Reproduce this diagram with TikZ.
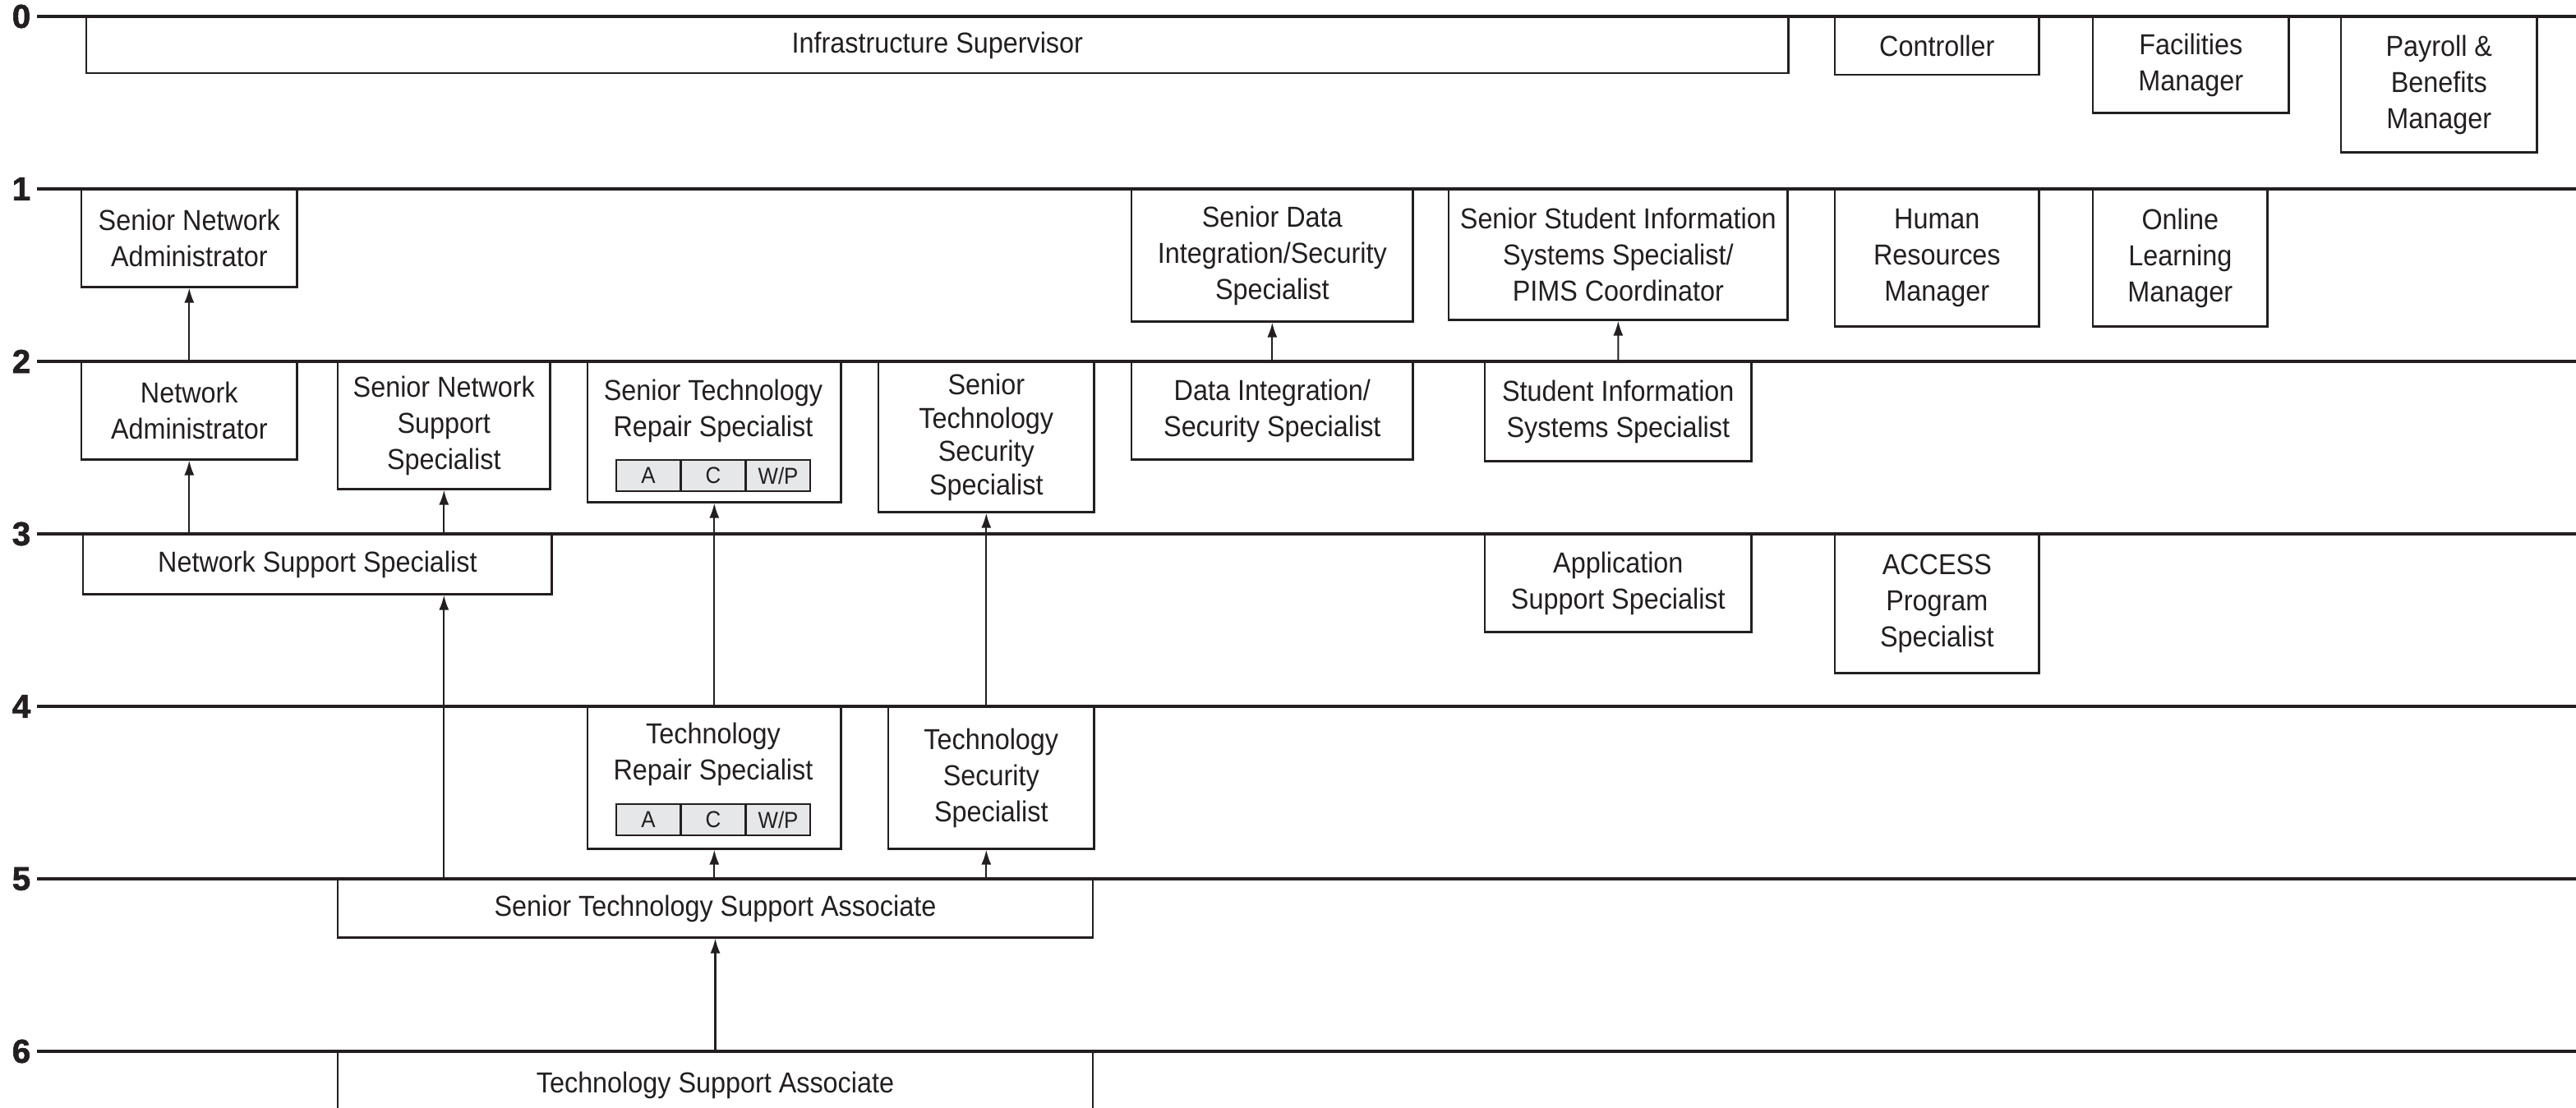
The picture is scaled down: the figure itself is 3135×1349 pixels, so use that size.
\documentclass[tikz,border=0pt]{standalone}
\usepackage{fontspec}
\setmainfont{Liberation Sans}[FakeStretch=0.92]
\newfontfamily\levelfont{Liberation Sans}[FakeBold=1.5]
\usetikzlibrary{arrows.meta}
\definecolor{ink}{RGB}{35,31,32}
\definecolor{cellgray}{RGB}{230,231,232}

\begin{document}
\begin{tikzpicture}[x=0.01cm,y=-0.01cm,>={Latex[length=1.8mm,width=1.2mm]},
    box/.style={draw=ink,line width=0.7pt,fill=white,anchor=north west,align=center,
        inner sep=1pt,text=ink,font=\fontsize{10}{12.5}\selectfont},
    cellbox/.style={draw=ink,line width=0.6pt,fill=cellgray,minimum width=0.787cm,
        minimum height=0.38cm,inner sep=0pt,text=ink,font=\fontsize{8}{9}\selectfont},
    level/.style={draw=ink,line width=1pt},
    lvlnum/.style={text=ink,font=\levelfont\fontsize{11.5}{11.5}\selectfont\bfseries},
    up/.style={->,draw=ink,line width=0.6pt}]
        \useasboundingbox (0,0) rectangle (3135,1349);
        % levels 0 to 6
        \foreach \n in {0,...,6}{
            \node[lvlnum] (lvl\n) at (26,20+210*\n) {\n};
            \draw[level] (45,20+210*\n) -- (3135,20+210*\n);
        }
        % level 0
        \node[box,minimum width=20.70cm,minimum height=0.68cm] (sup) at (104,20) {Infrastructure Supervisor};
        \node[box,minimum width=2.48cm,minimum height=0.70cm] (ctrl) at (2232,20) {Controller};
        \node[box,minimum width=2.38cm,minimum height=1.16cm] (fac) at (2546,20) {Facilities\\Manager};
        \node[box,minimum width=2.38cm,minimum height=1.64cm] (pay) at (2848,20) {Payroll \&\\Benefits\\Manager};
        % level 1
        \node[box,minimum width=2.62cm,minimum height=1.18cm] (sna) at (98,230) {Senior Network\\Administrator};
        \node[box,minimum width=3.42cm,minimum height=1.60cm] (sdis) at (1376,230) {Senior Data\\Integration/Security\\Specialist};
        \node[box,minimum width=4.12cm,minimum height=1.58cm] (ssis) at (1762,230) {Senior Student Information\\Systems Specialist/\\PIMS Coordinator};
        \node[box,minimum width=2.48cm,minimum height=1.66cm] (hrm) at (2232,230) {Human\\Resources\\Manager};
        \node[box,minimum width=2.12cm,minimum height=1.66cm] (olm) at (2546,230) {Online\\Learning\\Manager};
        % level 2
        \node[box,minimum width=2.62cm,minimum height=1.18cm] (na) at (98,440) {Network\\Administrator};
        \node[box,minimum width=2.58cm,minimum height=1.54cm] (snss) at (410,440) {Senior Network\\Support\\Specialist};
        \node[box,minimum width=3.08cm,minimum height=1.70cm] (strs) at (714,440) {};
        \node[align=center,text=ink,inner sep=0pt,font=\fontsize{10}{12.5}\selectfont] (strsT) at (868,500) {Senior Technology\\Repair Specialist};
        \node[cellbox] (strsA) at (789,579) {A};
        \node[cellbox] (strsC) at (868,579) {C};
        \node[cellbox] (strsW) at (947,579) {W/P};
        \node[box,minimum width=2.62cm,minimum height=1.82cm,font=\fontsize{10}{11.5}\selectfont] (stss) at (1068,440) {Senior\\Technology\\Security\\Specialist};
        \node[box,minimum width=3.42cm,minimum height=1.18cm] (dis) at (1376,440) {Data Integration/\\Security Specialist};
        \node[box,minimum width=3.24cm,minimum height=1.20cm] (sis) at (1806,440) {Student Information\\Systems Specialist};
        % level 3
        \node[box,minimum width=5.70cm,minimum height=0.72cm] (nss) at (100,650) {Network Support Specialist};
        \node[box,minimum width=3.24cm,minimum height=1.18cm] (aps) at (1806,650) {Application\\Support Specialist};
        \node[box,minimum width=2.48cm,minimum height=1.68cm] (acc) at (2232,650) {ACCESS\\Program\\Specialist};
        % level 4
        \node[box,minimum width=3.08cm,minimum height=1.72cm] (trs) at (714,860) {};
        \node[align=center,text=ink,inner sep=0pt,font=\fontsize{10}{12.5}\selectfont] (trsT) at (868,918) {Technology\\Repair Specialist};
        \node[cellbox] (trsA) at (789,998) {A};
        \node[cellbox] (trsC) at (868,998) {C};
        \node[cellbox] (trsW) at (947,998) {W/P};
        \node[box,minimum width=2.50cm,minimum height=1.72cm] (tss) at (1080,860) {Technology\\Security\\Specialist};
        % level 5 and 6
        \node[box,minimum width=9.18cm,minimum height=0.70cm] (stsa) at (410,1070) {Senior Technology Support Associate};
        \node[box,minimum width=9.18cm,minimum height=0.80cm] (tsa) at (410,1280) {Technology Support Associate};
        % career steps
        \draw[up] (na.north) -- (sna.south);
        \draw[up] (nss.north -| na.south) -- (na.south);
        \draw[up] (nss.north -| snss.south) -- (snss.south);
        \draw[up] (stsa.north -| snss.south) -- (nss.south -| snss.south);
        \draw[up] (stsa.north -| trs.south) -- (trs.south);
        \draw[up] (trs.north) -- (strs.south);
        \draw[up] (stsa.north -| stss.south) -- (tss.south -| stss.south);
        \draw[up] (tss.north -| stss.south) -- (stss.south);
        \draw[up] (tsa.north) -- (stsa.south);
        \draw[up] (dis.north) -- (sdis.south);
        \draw[up] (sis.north) -- (ssis.south);
\end{tikzpicture}
\end{document}
